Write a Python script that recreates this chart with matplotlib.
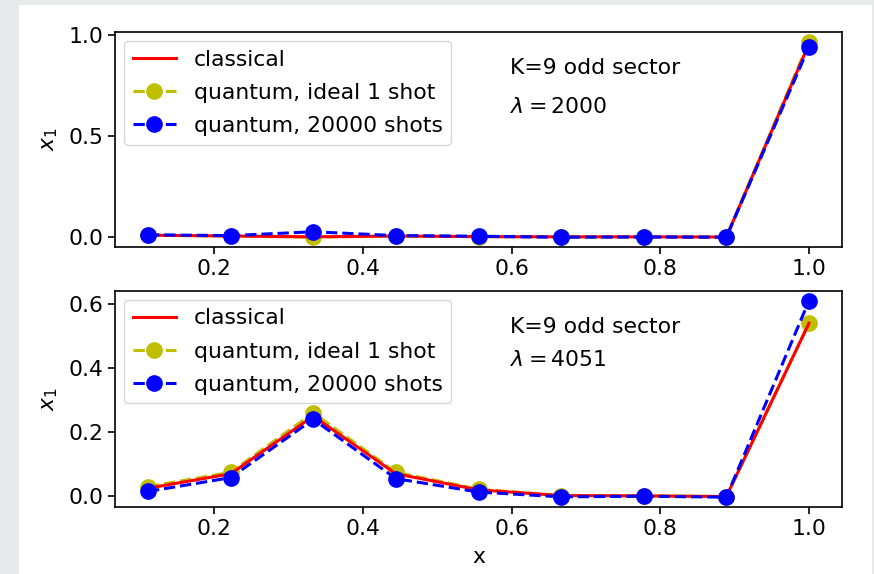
import numpy as np
import matplotlib.pyplot as plt
from matplotlib.patches import Rectangle

# puntos x = k/9
x = np.arange(1, 10) / 9.0

# panel superior, lambda = 2000
clasico_a = [0.008, 0.004, 0.0, 0.004, 0.001, 0.0, 0.0, -0.001, 0.955]
ideal_a = [0.008, 0.004, -0.002, 0.004, 0.001, 0.0, 0.0, -0.001, 0.965]
shots_a = [0.01, 0.006, 0.025, 0.006, 0.003, -0.002, -0.001, -0.002, 0.94]

# panel inferior, lambda = 4051
clasico_b = [0.025, 0.07, 0.25, 0.07, 0.02, 0.002, 0.001, -0.001, 0.54]
ideal_b = [0.03, 0.075, 0.26, 0.075, 0.022, 0.002, 0.001, -0.001, 0.54]
shots_b = [0.015, 0.058, 0.24, 0.055, 0.013, -0.002, 0.0, -0.003, 0.61]

etiquetas = ["classical", "quantum, ideal 1 shot", "quantum, 20000 shots"]
lambdas = [2000, 4051]

plt.rcParams['font.size'] = 15.75
plt.rcParams['axes.linewidth'] = 1.2
plt.rcParams['xtick.major.size'] = 5
plt.rcParams['ytick.major.size'] = 5
plt.rcParams['xtick.major.width'] = 1.2
plt.rcParams['ytick.major.width'] = 1.2

fig = plt.figure(figsize=(8.74, 5.74), dpi=100, facecolor='#e8e9eb')
# tarjeta blanca de fondo
fig.patches.append(Rectangle((19 / 874, 0), (872 - 19) / 874, 1 - 5 / 574,
                             transform=fig.transFigure, facecolor='white',
                             edgecolor='none', zorder=-1))

ax1 = fig.add_axes([115 / 874, 1 - 247 / 574, 727 / 874, 215 / 574])
ax2 = fig.add_axes([115 / 874, 1 - 507 / 574, 727 / 874, 216 / 574])

datos = [(ax1, clasico_a, ideal_a, shots_a, 0.651),
         (ax2, clasico_b, ideal_b, shots_b, 0.681)]

for i, (ax, c, q1, q2, ylam) in enumerate(datos):
    ax.plot(x, c, color='r', linewidth=2.2, label=etiquetas[0], zorder=3)
    ax.plot(x, q1, 'o--', color='y', markersize=11, linewidth=2.2,
            label=etiquetas[1], zorder=2)
    ax.plot(x, q2, 'o--', color='b', markersize=11, linewidth=2.2,
            label=etiquetas[2], zorder=4)
    ax.set_ylabel(r"$x_1$", labelpad=6)
    ax.legend(loc='upper left', fontsize=15.75, handlelength=2.0,
              borderaxespad=0.4, labelspacing=0.6)
    ax.text(0.543, 0.833, "K=9 odd sector", transform=ax.transAxes,
            va='center', ha='left')
    ax.text(0.543, ylam, r"$\lambda = %d$" % lambdas[i], transform=ax.transAxes,
            va='center', ha='left')
    ax.set_xticks([0.2, 0.4, 0.6, 0.8, 1.0])

ax1.set_yticks([0.0, 0.5, 1.0])
ax2.set_yticks([0.0, 0.2, 0.4, 0.6])
ax2.set_xlabel("x", labelpad=6)

plt.savefig('out.png', dpi=100, facecolor=fig.get_facecolor())
